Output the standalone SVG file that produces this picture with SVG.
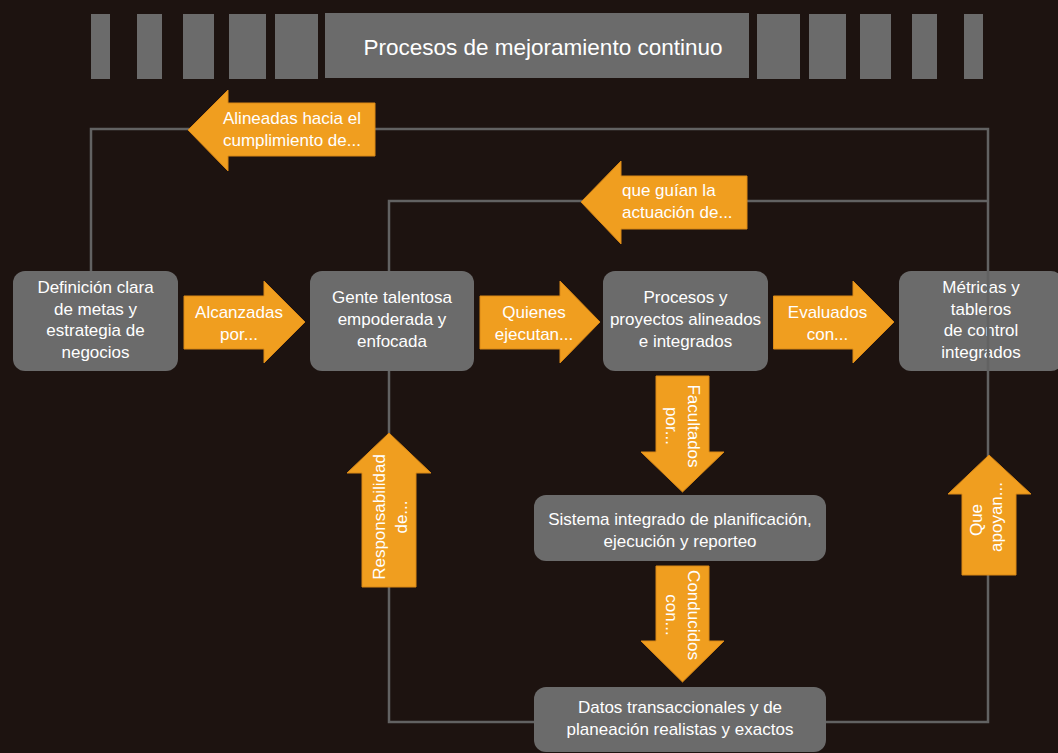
<svg xmlns="http://www.w3.org/2000/svg" width="1058" height="753" viewBox="0 0 1058 753">
<style>
.bg{fill:#1d1310}
.bar{fill:#6b6b6b}
.box{fill:#6b6b6b}
.t{font-family:"Liberation Sans","Noto Sans",Arial,sans-serif;font-size:17px;fill:#ffffff;text-anchor:middle}
.ts{text-anchor:start}
.title{font-family:"Liberation Sans","Noto Sans",Arial,sans-serif;font-size:22.5px;fill:#ffffff;text-anchor:middle}
.arr{fill:#f09e1f;stroke:#d98816;stroke-width:1}
.ln{fill:none;stroke:#626262;stroke-width:2.5}
</style>
<rect class="bg" x="0" y="0" width="1058" height="753"/>
<g id="header">
<rect class="bar" x="91" y="14" width="19" height="65"/>
<rect class="bar" x="137" y="14" width="25" height="65"/>
<rect class="bar" x="183" y="14" width="31" height="65"/>
<rect class="bar" x="229" y="14" width="37" height="65"/>
<rect class="bar" x="275" y="14" width="43" height="65"/>
<rect class="bar" x="325" y="13" width="424" height="65"/>
<rect class="bar" x="757" y="14" width="43" height="65"/>
<rect class="bar" x="809" y="14" width="37" height="65"/>
<rect class="bar" x="860" y="14" width="31" height="65"/>
<rect class="bar" x="912" y="14" width="25" height="65"/>
<rect class="bar" x="964" y="14" width="19" height="65"/>
<text class="title" x="543" y="55">Procesos de mejoramiento continuo</text>
</g>
<g id="node-definicion">
<rect class="box" x="13" y="271" width="165" height="100" rx="12"/>
<text class="t" x="95.5" y="293">Definición clara</text>
<text class="t" x="95.5" y="315">de metas y</text>
<text class="t" x="95.5" y="336">estrategia de</text>
<text class="t" x="95.5" y="358">negocios</text>
</g>
<g id="node-gente">
<rect class="box" x="310" y="271" width="164" height="100" rx="12"/>
<text class="t" x="392" y="303">Gente talentosa</text>
<text class="t" x="392" y="325">empoderada y</text>
<text class="t" x="392" y="347">enfocada</text>
</g>
<g id="node-procesos">
<rect class="box" x="603" y="271" width="165" height="100" rx="12"/>
<text class="t" x="685.5" y="303">Procesos y</text>
<text class="t" x="685.5" y="325">proyectos alineados</text>
<text class="t" x="685.5" y="347">e integrados</text>
</g>
<g id="node-metricas">
<rect class="box" x="899" y="271" width="164" height="100" rx="12"/>
<text class="t" x="981" y="293">Métricas y</text>
<text class="t" x="981" y="315">tableros</text>
<text class="t" x="981" y="336">de control</text>
<text class="t" x="981" y="358">integrados</text>
</g>
<g id="node-sistema">
<rect class="box" x="534" y="495" width="292" height="66" rx="12"/>
<text class="t" x="680" y="525">Sistema integrado de planificación,</text>
<text class="t" x="680" y="547">ejecución y reporteo</text>
</g>
<g id="node-datos">
<rect class="box" x="534" y="687" width="292" height="65" rx="12"/>
<text class="t" x="680" y="713">Datos transaccionales y de</text>
<text class="t" x="680" y="735">planeación realistas y exactos</text>
</g>
<g id="connectors">
<path class="ln" d="M91,271 V129 H988 V460"/>
<path class="ln" d="M988,570 V722 H826"/>
<path class="ln" d="M389,271 V201 H988"/>
<path class="ln" d="M389,371 V722 H534"/>
</g>
<g id="arrow-alineadas">
<path class="arr" d="M375,103 H228 V90 L188,130 L228,171 V156 H375 Z"/>
<text class="t ts" x="223" y="124">Alineadas hacia el</text>
<text class="t ts" x="223" y="146">cumplimiento de...</text>
</g>
<g id="arrow-guian">
<path class="arr" d="M747,176 H621 V161 L581,202 L621,244 V229 H747 Z"/>
<text class="t ts" x="622" y="196">que guían la</text>
<text class="t ts" x="622" y="218">actuación de...</text>
</g>
<g id="arrow-alcanzadas">
<path class="arr" d="M184,296 H264 V281 L305,322 L264,363 V349 H184 Z"/>
<text class="t" x="239" y="318">Alcanzadas</text>
<text class="t" x="239" y="340">por...</text>
</g>
<g id="arrow-quienes">
<path class="arr" d="M480,296 H560 V281 L600,322 L560,363 V349 H480 Z"/>
<text class="t" x="534" y="318">Quienes</text>
<text class="t" x="534" y="340">ejecutan...</text>
</g>
<g id="arrow-evaluados">
<path class="arr" d="M773.5,296 H853 V281 L894,322 L853,363 V349 H773.5 Z"/>
<text class="t" x="827.5" y="318">Evaluados</text>
<text class="t" x="827.5" y="340">con...</text>
</g>
<g id="arrow-facultados">
<path class="arr" d="M656,376 H709 V452 H724 L682.5,492 L641,452 H656 Z"/>
<text class="t" transform="translate(688,426) rotate(90)">Facultados</text>
<text class="t" transform="translate(666,426) rotate(90)">por...</text>
</g>
<g id="arrow-conducidos">
<path class="arr" d="M656,566 H709 V641 H724 L682.5,682 L641,641 H656 Z"/>
<text class="t" transform="translate(688,615) rotate(90)">Conducidos</text>
<text class="t" transform="translate(666,615) rotate(90)">con...</text>
</g>
<g id="arrow-responsabilidad">
<path class="arr" d="M362,587 V473 H347 L389,433 L431,473 H416 V587 Z"/>
<text class="t" transform="translate(385,517) rotate(-90)">Responsabilidad</text>
<text class="t" transform="translate(407,517) rotate(-90)">de...</text>
</g>
<g id="arrow-apoyan">
<path class="arr" d="M962,575 V494 H948 L989,455 L1031,494 H1016 V575 Z"/>
<text class="t" transform="translate(982,520) rotate(-90)">Que</text>
<text class="t" transform="translate(1002,517) rotate(-90)">apoyan...</text>
</g>
</svg>
